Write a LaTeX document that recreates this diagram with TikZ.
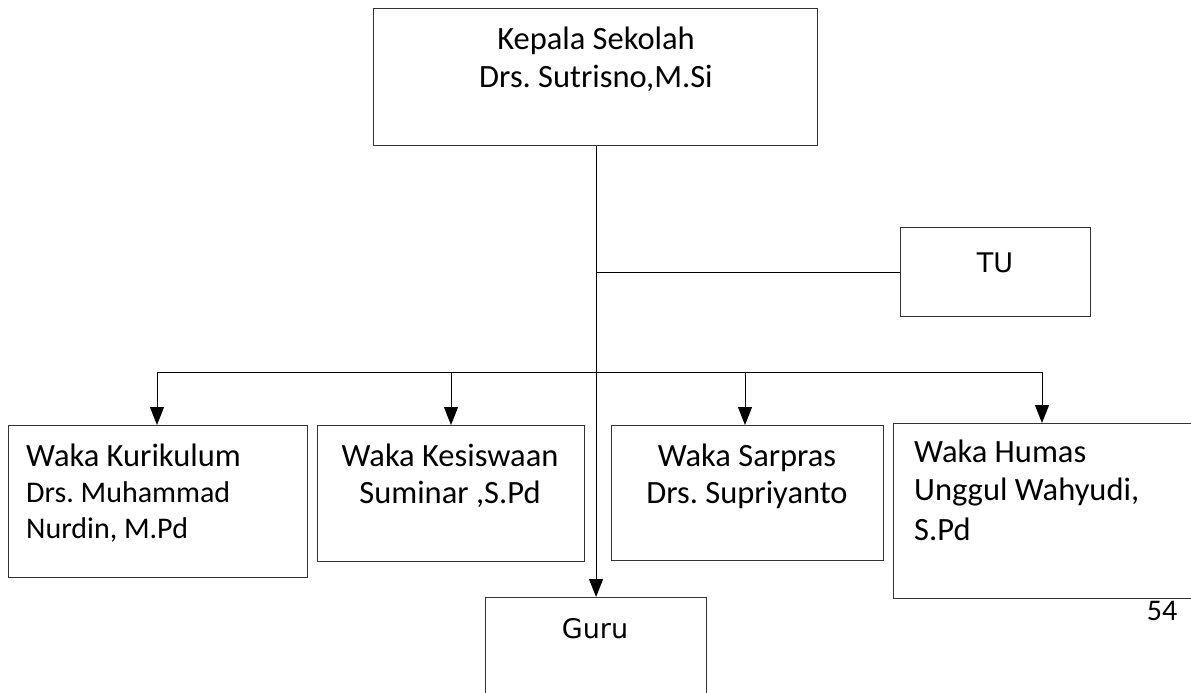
\documentclass[tikz,border=0pt]{standalone}
\usepackage{fontspec}
\setmainfont{Carlito}
\newfontfamily\dvs{DejaVu Sans}
\usetikzlibrary{arrows.meta}
\frenchspacing
\begin{document}
\begin{tikzpicture}[x=1pt,y=-1pt,
  box/.style={draw=black!80,line width=1.1pt,rectangle,inner sep=0pt,anchor=north west},
  conn/.style={draw=black,line width=1pt},
  arr/.style={conn,-{Triangle[width=14pt,length=18pt]}},
  txt/.style={font=\fontsize{32.5}{38}\selectfont,inner sep=0pt,anchor=base},
  txtl/.style={txt,anchor=base west},
  txts/.style={font=\fontsize{30}{35}\selectfont,inner sep=0pt,anchor=base west},
  dtxt/.style={font=\dvs\fontsize{27}{32}\selectfont,inner sep=0pt,anchor=base},
]
\useasboundingbox (0,0) rectangle (1191,693);
% boxes
\node[box,minimum width=444pt,minimum height=137pt] (kepala) at (373,8) {};
\node[box,minimum width=190pt,minimum height=89pt] (tu) at (900,227) {};
\node[box,minimum width=299pt,minimum height=152pt] (kur) at (8,425) {};
\node[box,minimum width=267pt,minimum height=136pt] (kes) at (317,425) {};
\node[box,minimum width=272pt,minimum height=135pt] (sar) at (611,425) {};
\node[box,minimum width=320pt,minimum height=175pt] (hum) at (893,423) {};
\node[box,minimum width=221pt,minimum height=120pt] (guru) at (485,597) {};
% texts
\node[txt] (t1) at (596,50) {Kepala Sekolah};
\node[txt] (t2) at (596,87) {Drs. Sutrisno,M.Si};
\node[dtxt] (ttu) at (995,272) {TU};
\node[txtl] (k1) at (26,466) {Waka Kurikulum};
\node[txts] (k2) at (26,502) {Drs. Muhammad};
\node[txts] (k3) at (26,538) {Nurdin, M.Pd};
\node[txt] (s1) at (450,466) {Waka Kesiswaan};
\node[txt] (s2) at (450,503) {Suminar ,S.Pd};
\node[txt] (p1) at (747,466) {Waka Sarpras};
\node[txt] (p2) at (747,503) {Drs. Supriyanto};
\node[txtl] (h1) at (914,462) {Waka Humas};
\node[txtl] (h2) at (914,500) {Unggul Wahyudi,};
\node[txtl] (h3) at (914,540) {S.Pd};
\node[dtxt] (tg) at (595,638) {Guru};
\node[font=\fontsize{30}{35}\selectfont,inner sep=0pt,anchor=base] (pg) at (1162,620) {54};
% connectors
\coordinate (trunkTU) at (597,272);
\draw[arr] (kepala.south -| guru.north) -- (guru.north);
\draw[conn] (trunkTU) -- (tu.west |- trunkTU);
\coordinate (bl) at (157,372);
\coordinate (br) at (1042,372);
\draw[conn] (bl) -- (br);
\draw[arr] (bl) -- (bl |- kur.north);
\draw[arr] (451,372) -- (451,425);
\draw[arr] (745,372) -- (745,425);
\draw[arr] (br) -- (br |- hum.north);
\end{tikzpicture}
\end{document}
